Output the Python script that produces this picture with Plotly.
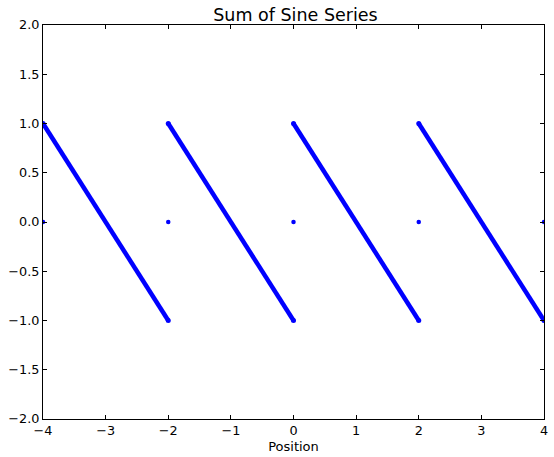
import plotly.graph_objects as go

# Sawtooth segments (start/end of each falling ramp)
seg_x_start = [-4.0, -2.0, 0.0, 2.0]
seg_y_start = [1.0, 1.0, 1.0, 1.0]
seg_x_end = [-2.0, 0.0, 2.0, 4.0]
seg_y_end = [-1.0, -1.0, -1.0, -1.0]

# Isolated points at the discontinuities
jump_x = [-4.0, -2.0, 0.0, 2.0, 4.0]
jump_y = [0.0, 0.0, 0.0, 0.0, 0.0]

x_ticks = [-4, -3, -2, -1, 0, 1, 2, 3, 4]
y_ticks = [-2.0, -1.5, -1.0, -0.5, 0.0, 0.5, 1.0, 1.5, 2.0]

line_x, line_y = [], []
for xs, ys, xe, ye in zip(seg_x_start, seg_y_start, seg_x_end, seg_y_end):
    line_x += [xs, xe, None]
    line_y += [ys, ye, None]

BLUE = "#0000ff"
fig = go.Figure()
fig.add_trace(go.Scatter(
    x=line_x, y=line_y, mode="lines+markers",
    line=dict(color=BLUE, width=4.5),
    marker=dict(color=BLUE, size=5),
    hoverinfo="skip", showlegend=False,
))
fig.add_trace(go.Scatter(
    x=jump_x, y=jump_y, mode="markers",
    marker=dict(color=BLUE, size=4.5),
    showlegend=False,
))

FONT = "DejaVu Sans"
axis_common = dict(
    showline=True, linecolor="black", linewidth=1, mirror="ticks",
    ticks="inside", ticklen=4, tickwidth=1, tickcolor="black",
    showgrid=False, zeroline=False,
    tickfont=dict(family=FONT, size=12.8, color="black"),
)
fig.update_xaxes(range=[-4, 4], tickvals=x_ticks, **axis_common,
                 title=dict(text="Position", font=dict(family=FONT, size=13, color="black"), standoff=4))
fig.update_yaxes(range=[-2, 2], tickvals=y_ticks, tickformat=".1f", **axis_common)

fig.update_layout(
    width=554, height=457,
    margin=dict(l=43, r=6, t=25, b=38),
    paper_bgcolor="white", plot_bgcolor="white",
    title=dict(text="Sum of Sine Series", x=(43 + 548) / 2 / 554, xanchor="center",
               y=1 - 14.5 / 457, yanchor="middle",
               font=dict(family=FONT, size=17.5, color="black")),
    font=dict(family=FONT),
)
fig.write_html("out.html")
